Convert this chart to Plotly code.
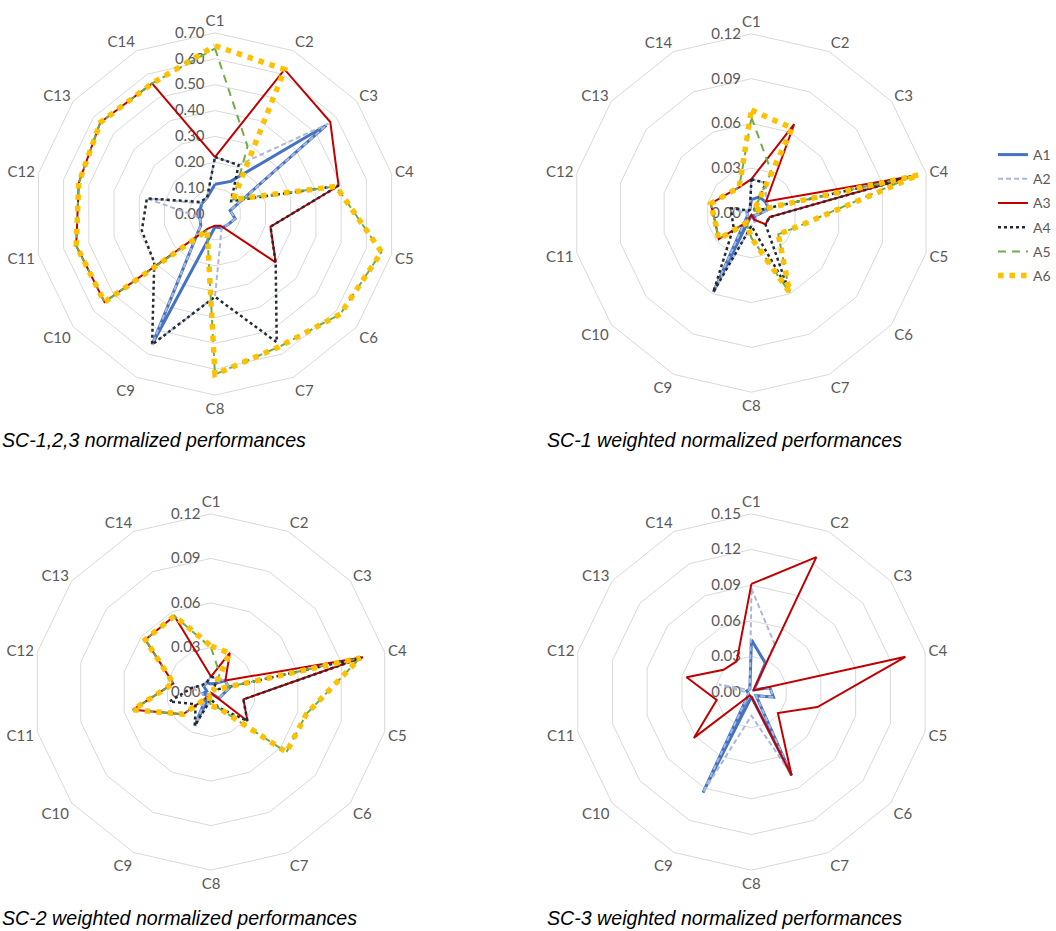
import plotly.graph_objects as go

categories = ["C1", "C2", "C3", "C4", "C5", "C6", "C7", "C8", "C9", "C10", "C11", "C12", "C13", "C14"]
series_names = ["A1", "A2", "A3", "A4", "A5", "A6"]

# SC-1,2,3 normalized performances
norm_A1 = [0.115, 0.14, 0.55, 0.06, 0.08, 0.065, 0.06, 0.05, 0.56, 0.07, 0.06, 0.06, 0.065, 0.07]
norm_A2 = [0.22, 0.21, 0.56, 0.06, 0.08, 0.065, 0.06, 0.32, 0.56, 0.07, 0.06, 0.27, 0.065, 0.07]
norm_A3 = [0.22, 0.62, 0.57, 0.49, 0.22, 0.30, 0.05, 0.045, 0.063, 0.546, 0.55, 0.54, 0.567, 0.56]
norm_A4 = [0.22, 0.21, 0.08, 0.49, 0.22, 0.30, 0.55, 0.32, 0.56, 0.30, 0.29, 0.27, 0.075, 0.07]
norm_A5 = [0.64, 0.29, 0.09, 0.48, 0.66, 0.62, 0.57, 0.62, 0.07, 0.546, 0.55, 0.54, 0.567, 0.56]
norm_A6 = [0.65, 0.62, 0.09, 0.48, 0.66, 0.62, 0.57, 0.62, 0.07, 0.546, 0.55, 0.54, 0.567, 0.56]

# SC-1 weighted normalized performances
sc1_A1 = [0.009, 0.012, 0.012, 0.012, 0.0046, 0.0026, 0.0062, 0.0014, 0.0588, 0.0036, 0.0028, 0.0031, 0.0023, 0.0024]
sc1_A2 = [0.0227, 0.0223, 0.0123, 0.0139, 0.0046, 0.0026, 0.0062, 0.0086, 0.0588, 0.0036, 0.0028, 0.014, 0.0023, 0.0024]
sc1_A3 = [0.0227, 0.066, 0.0125, 0.113, 0.0125, 0.012, 0.0052, 0.0012, 0.0066, 0.028, 0.025, 0.028, 0.0206, 0.019]
sc1_A4 = [0.0227, 0.0223, 0.0018, 0.113, 0.0125, 0.012, 0.057, 0.0086, 0.0588, 0.0153, 0.0133, 0.014, 0.0027, 0.0024]
sc1_A5 = [0.064, 0.0307, 0.002, 0.111, 0.035, 0.023, 0.059, 0.0167, 0.0074, 0.028, 0.025, 0.028, 0.0206, 0.019]
sc1_A6 = [0.069, 0.063, 0.002, 0.115, 0.035, 0.023, 0.059, 0.0167, 0.0074, 0.028, 0.025, 0.028, 0.0206, 0.019]

# SC-2 weighted normalized performances
sc2_A1 = [0.0054, 0.0066, 0.0121, 0.0128, 0.008, 0.0068, 0.0013, 0.0008, 0.0252, 0.0031, 0.0059, 0.0029, 0.0065, 0.007]
sc2_A2 = [0.0103, 0.0099, 0.0123, 0.0128, 0.008, 0.0068, 0.0013, 0.0048, 0.0252, 0.0031, 0.0059, 0.013, 0.0065, 0.007]
sc2_A3 = [0.0104, 0.0292, 0.0124, 0.105, 0.0224, 0.0314, 0.001, 0.0007, 0.0028, 0.024, 0.054, 0.026, 0.0566, 0.0568]
sc2_A4 = [0.0104, 0.0099, 0.0018, 0.105, 0.0224, 0.0314, 0.0116, 0.0048, 0.0252, 0.0132, 0.0287, 0.013, 0.0075, 0.007]
sc2_A5 = [0.030, 0.0136, 0.002, 0.103, 0.066, 0.065, 0.012, 0.0093, 0.0032, 0.024, 0.054, 0.026, 0.0566, 0.0568]
sc2_A6 = [0.031, 0.029, 0.002, 0.103, 0.066, 0.065, 0.012, 0.0093, 0.0032, 0.024, 0.054, 0.026, 0.0566, 0.0568]

# SC-3 weighted normalized performances
sc3_A1 = [0.044, 0.027, 0.003, 0.016, 0.019, 0.005, 0.078, 0.004, 0.094, 0.003, 0.003, 0.004, 0.003, 0.003]
sc3_A2 = [0.087, 0.045, 0.003, 0.016, 0.019, 0.005, 0.076, 0.02, 0.094, 0.003, 0.003, 0.028, 0.003, 0.003]
sc3_A3 = [0.091, 0.126, 0.002, 0.133, 0.057, 0.0285, 0.078, 0.004, 0.003, 0.062, 0.030, 0.056, 0.030, 0.0286]

titles = ["SC-1,2,3 normalized performances", "SC-1 weighted normalized performances",
          "SC-2 weighted normalized performances", "SC-3 weighted normalized performances"]
radial_max = [0.70, 0.12, 0.12, 0.15]
radial_step = [0.10, 0.03, 0.03, 0.03]

charts = [
    {"A1": norm_A1, "A2": norm_A2, "A3": norm_A3, "A4": norm_A4, "A5": norm_A5, "A6": norm_A6},
    {"A1": sc1_A1, "A2": sc1_A2, "A3": sc1_A3, "A4": sc1_A4, "A5": sc1_A5, "A6": sc1_A6},
    {"A1": sc2_A1, "A2": sc2_A2, "A3": sc2_A3, "A4": sc2_A4, "A5": sc2_A5, "A6": sc2_A6},
    {"A1": sc3_A1, "A2": sc3_A2, "A3": sc3_A3},
]

styles = {
    "A1": dict(color="#4472C4", width=3, dash="solid"),
    "A2": dict(color="#A9B7D8", width=2, dash="5px,3px"),
    "A3": dict(color="#C00000", width=2, dash="solid"),
    "A4": dict(color="#222A35", width=2.5, dash="dot"),
    "A5": dict(color="#70AD47", width=2, dash="8px,6px"),
    "A6": dict(color="#FFC000", width=5.5, dash="5.5px,6px"),
}

W, H = 1056, 931
# centre (px) and radius (px) of each radar
geom = [(216, 214, 182), (755, 213, 180), (212, 692, 179), (755, 692, 179)]

fig = go.Figure()
for i, data in enumerate(charts):
    pname = "polar" if i == 0 else f"polar{i+1}"
    for name in series_names:
        if name not in data:
            continue
        vals = data[name]
        fig.add_trace(go.Scatterpolar(
            r=vals + vals[:1], theta=categories + categories[:1],
            mode="lines", name=name, line=styles[name],
            subplot=pname, showlegend=(i == 0), legendgroup=name,
            hoverinfo="skip",
        ))

tickfont = dict(family="Lato, Open Sans, sans-serif", size=15, color="#595959")
layout = dict(width=W, height=H, margin=dict(l=0, r=0, t=0, b=0),
              paper_bgcolor="white", plot_bgcolor="white", annotations=[])
for i, (cx, cy, R) in enumerate(geom):
    pname = "polar" if i == 0 else f"polar{i+1}"
    layout[pname] = dict(
        domain=dict(x=[(cx - R) / W, (cx + R) / W], y=[1 - (cy + R) / H, 1 - (cy - R) / H]),
        gridshape="linear", bgcolor="white",
        radialaxis=dict(range=[0, radial_max[i]], dtick=radial_step[i], tick0=0, tickformat=".2f",
                        ticksuffix="\u00a0\u00a0", angle=90, tickangle=90, side="counterclockwise",
                        showline=False, ticks="", gridcolor="#D9D9D9", gridwidth=1,
                        tickfont=tickfont, layer="below traces"),
        angularaxis=dict(rotation=90, direction="clockwise", showgrid=False, showline=True,
                         linecolor="#D9D9D9", linewidth=1, ticks="", tickfont=tickfont,
                         layer="below traces", categoryorder="array", categoryarray=categories),
    )

title_pos = [(0, 440), (548, 440), (0, 918), (548, 918)]
for t, (x, y) in zip(titles, title_pos):
    layout["annotations"].append(dict(
        text=t, x=x / W, y=1 - y / H, xref="paper", yref="paper", xanchor="left", yanchor="middle",
        showarrow=False,
        font=dict(family="Liberation Sans Narrow, Arial Narrow, Liberation Sans, sans-serif", size=19.6,
                  color="#000000", style="italic"),
    ))

layout["legend"] = dict(x=998 / W, y=1 - 139 / H, xanchor="left", yanchor="top",
                        font=dict(family="Lato, Open Sans, sans-serif", size=14, color="#595959"),
                        tracegroupgap=3, bgcolor="rgba(0,0,0,0)")
fig.update_layout(**layout)

fig.write_html("out.html", config={"displayModeBar": False},
               post_script="document.body.style.margin='0';")
